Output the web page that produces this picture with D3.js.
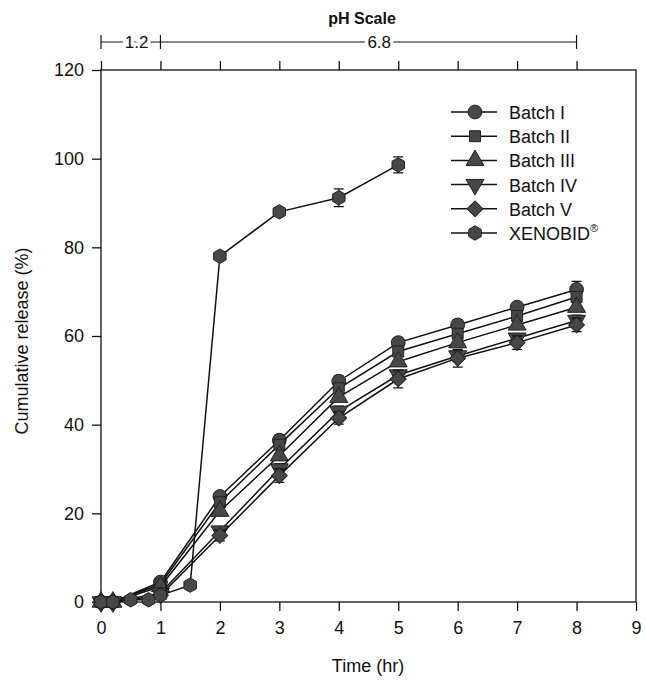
<!DOCTYPE html>
<html>
<head>
<meta charset="utf-8">
<script src="https://cdn.jsdelivr.net/npm/d3@7"></script>
<style>
  body { margin: 0; background: #fff; }
  text { font-family: "Liberation Sans", Arial, sans-serif; fill: #111; }
</style>
</head>
<body>
<div id="chart"></div>
<script>
// Data
const batchTimes = [0, 0.2, 1, 2, 3, 4, 5, 6, 7, 8];
const batch1 = [0, 0, 4.5, 23.8, 36.5, 49.8, 58.5, 62.5, 66.5, 70.5];
const batch2 = [0, 0, 4.0, 22.5, 35.5, 48.2, 56.5, 60.5, 64.5, 68.8];
const batch3 = [0, 0, 3.5, 20.5, 33.0, 46.2, 54.2, 58.5, 62.5, 66.5];
const batch4 = [0, 0, 2.0, 16.0, 30.0, 43.0, 51.2, 55.5, 59.5, 63.5];
const batch5 = [0, 0, 1.5, 15.0, 28.5, 41.5, 50.3, 55.0, 58.5, 62.5];
const batch1Err = [0, 0, 0.5, 1.0, 1.2, 1.2, 1.0, 1.2, 1.0, 1.8];
const batch4Err = [0, 0, 0.5, 1.0, 1.2, 1.2, 1.0, 1.2, 1.0, 1.2];
const batch5Err = [0, 0, 0.5, 1.2, 1.5, 1.4, 2.0, 2.0, 1.5, 1.5];

const xenoTimes = [0, 0.2, 0.5, 0.8, 1, 1.5, 2, 3, 4, 5];
const xenobid = [0, 0, 0.5, 0.5, 1.5, 3.8, 78.0, 88.0, 91.2, 98.6];
const xenoErr = [0, 0, 0, 0, 0, 0, 0.6, 0.6, 2.0, 1.8];

const seriesNames = ['Batch I', 'Batch II', 'Batch III', 'Batch IV', 'Batch V', 'XENOBID'];
const xTicks = [0, 1, 2, 3, 4, 5, 6, 7, 8, 9];
const yTicks = [0, 20, 40, 60, 80, 100, 120];
const phSegments = [{ from: 0, to: 1, label: '1.2', at: 0.6 }, { from: 1, to: 8, label: '6.8', at: 4.68 }];

const W = 646, H = 684;
const x = d3.scaleLinear().domain([0, 9]).range([101, 636]);
const y = d3.scaleLinear().domain([0, 120]).range([602, 70]);

const svg = d3.select('#chart').append('svg')
  .attr('width', W).attr('height', H);

const ink = '#111';
const markFill = '#474747';

// frame
svg.append('rect')
  .attr('x', x(0)).attr('y', y(120))
  .attr('width', x(9) - x(0)).attr('height', y(0) - y(120))
  .attr('fill', 'none').attr('stroke', ink).attr('stroke-width', 1.3);

// left axis
const yAxis = svg.append('g')
  .attr('transform', `translate(${x(0)},0)`)
  .call(d3.axisLeft(y).tickValues(yTicks).tickSize(9).tickPadding(8));
// bottom axis
const xAxis = svg.append('g')
  .attr('transform', `translate(0,${y(0)})`)
  .call(d3.axisBottom(x).tickValues(xTicks).tickSize(9).tickPadding(10));
// top axis (ticks only)
const topAxis = svg.append('g')
  .attr('transform', `translate(0,${y(120)})`)
  .call(d3.axisTop(x).tickValues(xTicks.slice(0, 9)).tickSize(9).tickFormat(''));

[yAxis, xAxis, topAxis].forEach(g => {
  g.select('.domain').remove();
  g.selectAll('line').attr('stroke', ink).attr('stroke-width', 1.3);
  g.selectAll('text').attr('font-size', 18).attr('fill', ink)
    .attr('font-family', '"Liberation Sans", Arial, sans-serif');
});

// axis titles
svg.append('text')
  .attr('transform', `translate(28,${(y(0) + y(120)) / 2 + 5}) rotate(-90)`)
  .attr('text-anchor', 'middle').attr('font-size', 18)
  .text('Cumulative release (%)');
svg.append('text')
  .attr('x', 368).attr('y', 672)
  .attr('text-anchor', 'middle').attr('font-size', 18)
  .text('Time (hr)');

// pH scale bracket
const phY = 42;
svg.append('text')
  .attr('x', 362).attr('y', 24)
  .attr('text-anchor', 'middle').attr('font-size', 16).attr('font-weight', 'bold')
  .text('pH Scale');
svg.append('line')
  .attr('x1', x(0)).attr('x2', x(8)).attr('y1', phY).attr('y2', phY)
  .attr('stroke', ink).attr('stroke-width', 1.2);
svg.selectAll('.phTick').data([0, 1, 8]).enter().append('line')
  .attr('x1', d => x(d)).attr('x2', d => x(d))
  .attr('y1', phY - 7).attr('y2', phY + 7)
  .attr('stroke', ink).attr('stroke-width', 1.2);
svg.selectAll('.phLabel').data(phSegments).enter().append('text')
  .attr('x', d => x(d.at)).attr('y', phY + 6)
  .attr('text-anchor', 'middle').attr('font-size', 17)
  .attr('stroke', '#fff').attr('stroke-width', 7).attr('paint-order', 'stroke')
  .text(d => d.label);

// marker shapes
const hexagon = {
  draw(ctx, size) {
    const r = Math.sqrt(size / (1.5 * Math.sqrt(3)));
    for (let i = 0; i < 6; i++) {
      const a = Math.PI / 6 + i * Math.PI / 3;
      const px = r * Math.cos(a), py = r * Math.sin(a);
      if (i === 0) ctx.moveTo(px, py); else ctx.lineTo(px, py);
    }
    ctx.closePath();
  }
};
const shapes = [
  { type: d3.symbolCircle, size: 150, rot: 0 },
  { type: d3.symbolSquare, size: 120, rot: 0 },
  { type: d3.symbolTriangle, size: 140, rot: 0 },
  { type: d3.symbolTriangle, size: 140, rot: 180 },
  { type: d3.symbolSquare, size: 125, rot: 45 },
  { type: hexagon, size: 135, rot: 0 }
];

const series = [
  { name: seriesNames[0], t: batchTimes, v: batch1, e: batch1Err },
  { name: seriesNames[1], t: batchTimes, v: batch2, e: null },
  { name: seriesNames[2], t: batchTimes, v: batch3, e: null },
  { name: seriesNames[3], t: batchTimes, v: batch4, e: batch4Err },
  { name: seriesNames[4], t: batchTimes, v: batch5, e: batch5Err },
  { name: seriesNames[5], t: xenoTimes, v: xenobid, e: xenoErr }
];

const line = d3.line().x(d => x(d.t)).y(d => y(d.v));

series.forEach((s, si) => {
  const pts = s.t.map((t, i) => ({ t, v: s.v[i], e: s.e ? s.e[i] : 0 }));
  const g = svg.append('g');
  g.append('path').datum(pts)
    .attr('d', line).attr('fill', 'none')
    .attr('stroke', ink).attr('stroke-width', 1.5);
  // error bars
  g.selectAll('.err').data(pts.filter(p => p.e > 0)).enter().append('path')
    .attr('d', p => {
      const cx = x(p.t), y1 = y(p.v + p.e), y2 = y(p.v - p.e);
      return `M${cx - 5},${y1}H${cx + 5}M${cx},${y1}V${y2}M${cx - 5},${y2}H${cx + 5}`;
    })
    .attr('stroke', ink).attr('stroke-width', 1.3).attr('fill', 'none');
  const sym = d3.symbol().type(shapes[si].type).size(shapes[si].size);
  g.selectAll('.mk').data(pts).enter().append('path')
    .attr('d', sym)
    .attr('transform', p => `translate(${x(p.t)},${y(p.v)}) rotate(${shapes[si].rot})`)
    .attr('fill', markFill).attr('stroke', '#222').attr('stroke-width', 1);
});

// legend
const legend = svg.append('g').attr('transform', 'translate(451,112)');
const rowH = 24.2;
series.forEach((s, si) => {
  const row = legend.append('g').attr('transform', `translate(0,${si * rowH})`);
  row.append('line').attr('x1', 0).attr('x2', 46).attr('y1', 0).attr('y2', 0)
    .attr('stroke', ink).attr('stroke-width', 1.5);
  row.append('path')
    .attr('d', d3.symbol().type(shapes[si].type).size(shapes[si].size))
    .attr('transform', `translate(24,0) rotate(${shapes[si].rot})`)
    .attr('fill', markFill).attr('stroke', '#222');
  const t = row.append('text').attr('x', 58).attr('y', 7).attr('font-size', 18).text(s.name);
  if (si === 5) {
    t.append('tspan').attr('font-size', 11).attr('dy', -8).text('®');
  }
});
</script>
</body>
</html>
